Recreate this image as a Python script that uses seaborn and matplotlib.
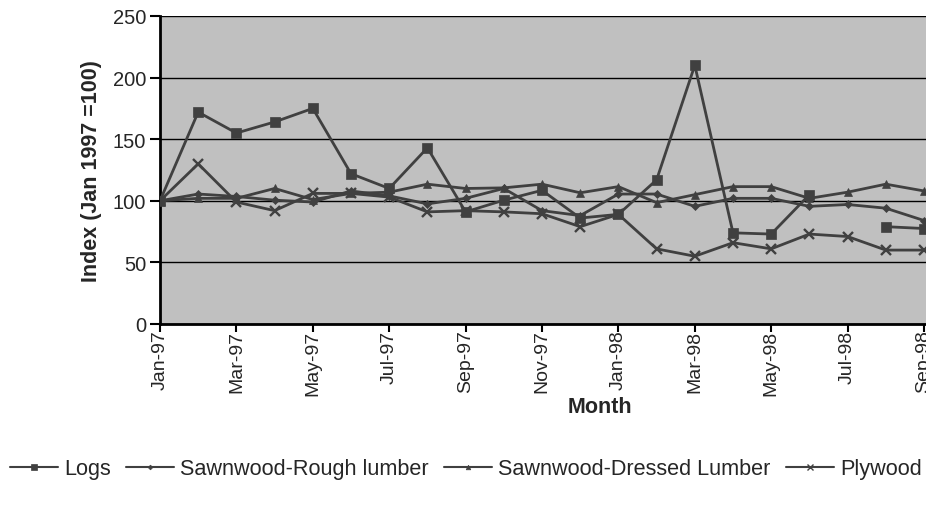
import numpy as np
import pandas as pd
import matplotlib
matplotlib.use("Agg")
import matplotlib.pyplot as plt
from matplotlib.lines import Line2D
import seaborn as sns

months = ["Jan-97", "Feb-97", "Mar-97", "Apr-97", "May-97", "Jun-97", "Jul-97",
          "Aug-97", "Sep-97", "Oct-97", "Nov-97", "Dec-97", "Jan-98", "Feb-98",
          "Mar-98", "Apr-98", "May-98", "Jun-98", "Jul-98", "Aug-98", "Sep-98"]

logs = [100, 172, 155, 164, 175, 122, 110, 143, 91, 100.5, 108.5, 86, 89, 117,
        210, 74, 73, 105, np.nan, 79, 77.5]
rough = [100, 105.5, 103.5, 100.5, 99, 108, 104, 97.5, 102, 110, 92, 88, 105.5,
         105.5, 95.5, 102, 102, 95.5, 97, 94, 84]
dressed = [100, 102, 102, 110, 101, 106, 107, 113.5, 110, 110.5, 113.5, 106.5,
           111.5, 98.5, 105, 111.5, 111.5, 102, 107, 113.5, 108]
plywood = [100, 130, 99, 92, 106, 106, 103, 91, 92, 91, 89.5, 79, 89, 61, 55,
           66, 61, 73, 71, 60, 60]

series_names = ["Logs", "Sawnwood-Rough lumber", "Sawnwood-Dressed Lumber", "Plywood"]
series_values = [logs, rough, dressed, plywood]
tick_months = months[::2]

LINE = "#404040"
markers = {"Logs": "s", "Sawnwood-Rough lumber": "D",
           "Sawnwood-Dressed Lumber": "^", "Plywood": "x"}
msizes = {"Logs": 6.5, "Sawnwood-Rough lumber": 4,
          "Sawnwood-Dressed Lumber": 5.5, "Plywood": 7.5}

# long-form table; a gap in a series starts a new segment
rows = []
for name, vals in zip(series_names, series_values):
    seg = 0
    for i, v in enumerate(vals):
        if np.isnan(v):
            seg += 1
            continue
        rows.append({"series": name, "month": i, "value": v, "segment": seg})
df = pd.DataFrame(rows)

sns.set_style("white")
plt.rcParams["font.family"] = ["Liberation Sans", "DejaVu Sans"]

fig = plt.figure(figsize=(9.26, 5.06), dpi=100)
W, H = 926, 506
left, top, bottom = 160, 17, 325
px_per_month = 38.2
xmax = 20.5
ax = fig.add_axes([left / W, (H - bottom) / H, xmax * px_per_month / W, (bottom - top) / H])
ax.set_facecolor("#C0C0C0")

for name in series_names:
    sub = df[df["series"] == name]
    sns.lineplot(data=sub, x="month", y="value", units="segment", estimator=None,
                 ax=ax, color=LINE, linewidth=2, marker=markers[name],
                 markersize=msizes[name], markeredgecolor=LINE,
                 markeredgewidth=1.7 if name == "Plywood" else 0.5,
                 markerfacecolor=LINE, legend=False, zorder=3)

ax.set_xlim(0, xmax)
ax.set_ylim(0, 250)
ax.set_yticks([0, 50, 100, 150, 200, 250])
ax.yaxis.grid(True, color="black", linewidth=1)
ax.xaxis.grid(False)
ax.set_axisbelow(True)
ax.set_xticks(range(0, len(months), 2))
ax.set_xticklabels(tick_months, rotation=90, fontsize=14)
ax.tick_params(axis="y", labelsize=14.5, length=7, width=1.5, direction="out",
               left=True, color="black", pad=3)
ax.tick_params(axis="x", length=6, width=1.5, direction="out", bottom=True,
               color="black", pad=-2)
for s in ["top", "right"]:
    ax.spines[s].set_visible(False)
for s in ["left", "bottom"]:
    ax.spines[s].set_color("black")
    ax.spines[s].set_linewidth(2)

ax.set_ylabel("Index (Jan 1997 =100)", fontsize=15.5, fontweight="bold", labelpad=8)
ax.set_xlabel("")
fig.text(600 / W, 1 - 408 / H, "Month", fontsize=15.5, fontweight="bold",
         ha="center", va="center")

handles = [Line2D([], [], color=LINE, linewidth=1.5, marker=markers[n],
                  markersize=msizes[n] * 0.6, markerfacecolor=LINE,
                  markeredgecolor=LINE, markeredgewidth=1 if n == "Plywood" else 0.5)
           for n in series_names]
fig.legend(handles, series_names, loc="center", bbox_to_anchor=(466 / W, 1 - 470 / H),
           ncol=4, frameon=False, fontsize=15.6, handlelength=2.2, handletextpad=0.3,
           columnspacing=0.7)

fig.savefig("out.png", dpi=100)
